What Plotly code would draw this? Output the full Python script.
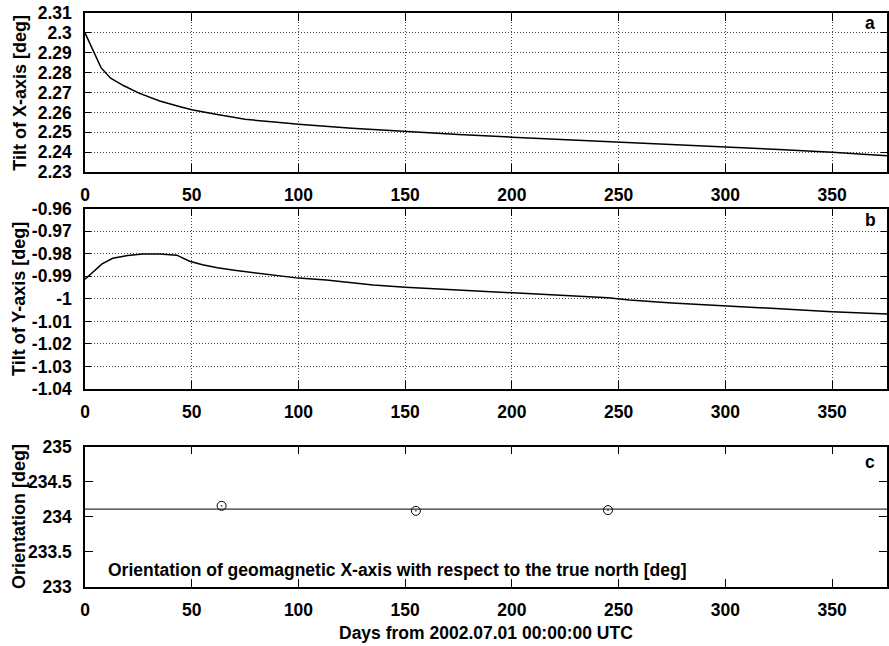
import plotly.graph_objects as go
from plotly.subplots import make_subplots

# ---- data ----
days_x = [0, 7.5, 12, 18, 25, 35, 45, 50, 60, 75, 90, 100, 125, 150, 175, 200,
          225, 250, 275, 300, 325, 350, 375.7]
tilt_x = [2.300, 2.2825, 2.2772, 2.2735, 2.2698, 2.2657, 2.2627, 2.2613, 2.2593,
          2.2565, 2.2550, 2.2540, 2.2520, 2.2503, 2.2489, 2.2475, 2.2463, 2.2451,
          2.2440, 2.2427, 2.2413, 2.2399, 2.2382]

days_y = [0, 4, 8, 13, 20, 27, 35, 43, 49, 55, 62, 70, 80, 90, 100, 113, 125, 135,
          150, 175, 200, 225, 245, 255, 275, 300, 325, 350, 375.7]
tilt_y = [-0.9913, -0.9878, -0.9845, -0.9820, -0.9808, -0.9801, -0.9801, -0.9806,
          -0.9833, -0.9849, -0.9862, -0.9873, -0.9885, -0.9897, -0.9908, -0.9916,
          -0.9929, -0.9939, -0.9949, -0.9962, -0.9973, -0.9985, -0.9995, -1.0005,
          -1.0018, -1.0032, -1.0046, -1.0057, -1.0067]

orient_days = [64, 155, 245]
orient_vals = [234.157, 234.086, 234.096]
orient_mean = 234.11

x_range = [0, 375.7]
x_ticks = [0, 50, 100, 150, 200, 250, 300, 350]
x_ticktext = ["0", "50", "100", "150", "200", "250", "300", "350"]
tx_ticks = [2.23, 2.24, 2.25, 2.26, 2.27, 2.28, 2.29, 2.30, 2.31]
tx_text = ["2.23", "2.24", "2.25", "2.26", "2.27", "2.28", "2.29", "2.3", "2.31"]
ty_ticks = [-1.04, -1.03, -1.02, -1.01, -1.00, -0.99, -0.98, -0.97, -0.96]
ty_text = ["-1.04", "-1.03", "-1.02", "-1.01", "-1", "-0.99", "-0.98", "-0.97", "-0.96"]
or_ticks = [233, 233.5, 234, 234.5, 235]
or_text = ["233", "233.5", "234", "234.5", "235"]

FONT = "Liberation Sans, Arial, Helvetica, sans-serif"
FS = 17.5
FS_T = 18


def b(s):
    return "<b>" + s + "</b>"


fig = make_subplots(rows=3, cols=1)

fig.add_trace(go.Scatter(x=days_x, y=tilt_x, mode="lines",
                         line=dict(color="black", width=1.5), showlegend=False), row=1, col=1)
fig.add_trace(go.Scatter(x=days_y, y=tilt_y, mode="lines",
                         line=dict(color="black", width=1.5), showlegend=False), row=2, col=1)
fig.add_trace(go.Scatter(x=x_range, y=[orient_mean, orient_mean], mode="lines",
                         line=dict(color="#333333", width=1.2), showlegend=False), row=3, col=1)
fig.add_trace(go.Scatter(x=orient_days, y=orient_vals, mode="markers",
                         marker=dict(symbol="circle-open-dot", size=9, color="black",
                                     line=dict(color="black", width=1)),
                         showlegend=False), row=3, col=1)

H_PLOT = 646 - 13 - 59


def dom(top_px, bot_px):
    return [(587 - bot_px) / H_PLOT, (587 - top_px) / H_PLOT]


domains = [dom(13, 172), dom(208.7, 389), dom(446.7, 587)]
yranges = [[2.23, 2.31], [-1.04, -0.96], [233, 235]]
yticks = [(tx_ticks, tx_text), (ty_ticks, ty_text), (or_ticks, or_text)]

tickfont = dict(family=FONT, size=FS, color="black", weight="bold")
for i in range(3):
    grid = i < 2
    xa = dict(domain=[0, 1], range=x_range, tickmode="array", tickvals=x_ticks,
              ticktext=[b(t) for t in x_ticktext], ticks="inside", ticklen=8,
              tickwidth=1.3, tickcolor="black", showline=True, linecolor="black",
              linewidth=1.5, mirror="allticks", showgrid=grid, gridcolor="#444444",
              gridwidth=1, griddash="1px,2px", zeroline=False, tickfont=tickfont,
              ticklabelstandoff=6)
    ya = dict(domain=domains[i], range=yranges[i], tickmode="array",
              tickvals=yticks[i][0], ticktext=[b(t) for t in yticks[i][1]],
              ticks="inside", ticklen=8 if not grid else 6, tickwidth=1.3,
              tickcolor="black", showline=True, linecolor="black", linewidth=1.5,
              mirror="allticks", showgrid=grid, gridcolor="#444444", gridwidth=1,
              griddash="1px,2px", zeroline=False, tickfont=tickfont,
              ticklabelstandoff=8)
    fig.update_xaxes(row=i + 1, col=1, **xa)
    fig.update_yaxes(row=i + 1, col=1, **ya)

ann_font = dict(family=FONT, size=FS, color="black", weight="bold")
tit_font = dict(family=FONT, size=FS_T, color="black", weight="bold")
annotations = []
titles = ["Tilt of X-axis [deg]", "Tilt of Y-axis [deg]", "Orientation [deg]"]
for i, t in enumerate(titles):
    d = domains[i]
    annotations.append(dict(text=b(t), xref="paper", yref="paper", x=(19 - 85) / 804,
                            y=(d[0] + d[1]) / 2, textangle=-90, showarrow=False,
                            xanchor="center", yanchor="middle", font=tit_font))
for i, (lab, ypx) in enumerate([("a", 23), ("b", 220), ("c", 462)]):
    annotations.append(dict(text=b(lab), xref="paper", yref="paper",
                            x=(872 - 85) / 804, y=(587 - ypx) / H_PLOT,
                            showarrow=False, xanchor="center", yanchor="middle",
                            font=ann_font))
annotations.append(dict(text=b("Orientation of geomagnetic X-axis with respect to the true north [deg]"),
                        xref="x3", yref="y3", x=10, y=233.24, showarrow=False,
                        xanchor="left", yanchor="middle", font=ann_font))
annotations.append(dict(text=b("Days from 2002.07.01 00:00:00 UTC"), xref="paper", yref="paper",
                        x=0.5, y=(587 - 633) / H_PLOT, showarrow=False,
                        xanchor="center", yanchor="middle", font=ann_font))

fig.update_layout(width=889, height=646, margin=dict(l=85, r=0, t=13, b=59),
                  paper_bgcolor="white", plot_bgcolor="white",
                  annotations=annotations, showlegend=False)

fig.write_html("out.html")
